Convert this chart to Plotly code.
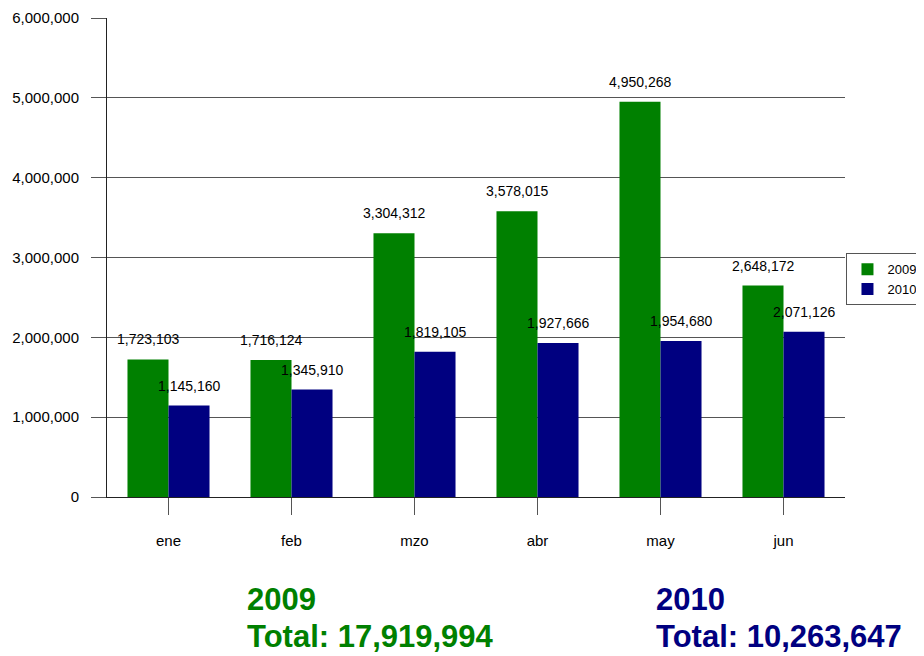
import plotly.graph_objects as go

months = ["ene", "feb", "mzo", "abr", "may", "jun"]
series_names = ["2009", "2010"]
values_2009 = [1723103, 1716124, 3304312, 3578015, 4950268, 2648172]
values_2010 = [1145160, 1345910, 1819105, 1927666, 1954680, 2071126]
colors = {"2009": "#008000", "2010": "#000080"}
y_ticks = [0, 1000000, 2000000, 3000000, 4000000, 5000000, 6000000]

FONT = "Liberation Sans, Arial, sans-serif"

fig = go.Figure()
for name, vals in zip(series_names, [values_2009, values_2010]):
    fig.add_trace(go.Bar(x=months, y=vals, name=name, marker_color=colors[name],
                         marker_line_width=0))

annotations = []
for i, (name, vals) in enumerate(zip(series_names, [values_2009, values_2010])):
    shift = -20.5 if i == 0 else 20.5
    for m, v in zip(months, vals):
        annotations.append(dict(x=m, y=v, xref="x", yref="y", text=f"{v:,}",
                                showarrow=False, xshift=shift, yshift=20,
                                yanchor="middle",
                                font=dict(family=FONT, size=14, color="#000000")))

totals = {"2009": sum(values_2009), "2010": sum(values_2010)}
block_x = {"2009": 0.1870, "2010": 0.7412}
for name in series_names:
    annotations.append(dict(x=block_x[name], y=-0.215, xref="paper", yref="paper",
                            xanchor="left", yanchor="middle", showarrow=False,
                            text=f"<b>{name}</b>",
                            font=dict(family=FONT, size=31, color=colors[name])))
    annotations.append(dict(x=block_x[name], y=-0.2912, xref="paper", yref="paper",
                            xanchor="left", yanchor="middle", showarrow=False,
                            text=f"<b>Total: {totals[name]:,}</b>",
                            font=dict(family=FONT, size=31, color=colors[name])))

fig.update_layout(
    width=916, height=648,
    margin=dict(l=99, r=79, t=10, b=159, autoexpand=False),
    paper_bgcolor="white", plot_bgcolor="white",
    barmode="group", bargap=0.333, bargroupgap=0,
    showlegend=True,
    legend=dict(x=1.002, y=0.509, xanchor="left", yanchor="top",
                bgcolor="white", bordercolor="#555555", borderwidth=1,
                font=dict(family=FONT, size=13, color="#000000"),
                itemsizing="constant", tracegroupgap=0, itemwidth=30),
    annotations=annotations,
    xaxis=dict(showline=True, linecolor="#222222", linewidth=1,
               ticks="outside", ticklen=17, tickcolor="#555555",
               tickfont=dict(family=FONT, size=15, color="#000000"),
               showgrid=False, ticklabelstandoff=13, automargin=False),
    yaxis=dict(range=[0, 6000000], tickvals=y_ticks, tickformat=",d",
               showline=True, linecolor="#222222", linewidth=1,
               ticks="outside", ticklen=15, tickcolor="#555555",
               showgrid=True, gridcolor="#555555", gridwidth=1,
               zeroline=False, automargin=False,
               tickfont=dict(family=FONT, size=15, color="#000000"),
               ticklabelstandoff=9),
)

fig.write_html("out.html")
